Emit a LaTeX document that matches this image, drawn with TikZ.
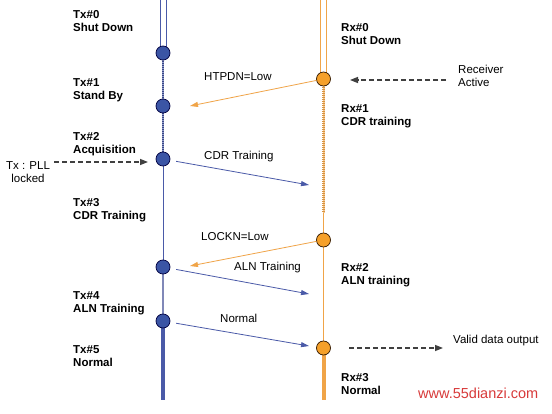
\documentclass[tikz,border=0pt]{standalone}
\usepackage{fontspec}
\setmainfont{Liberation Sans}
\usetikzlibrary{arrows.meta}
\definecolor{txblue}{HTML}{3B55A5}
\definecolor{txline}{HTML}{4A5AA8}
\definecolor{txlight}{HTML}{8088B8}
\definecolor{rxorange}{HTML}{F5A02A}
\definecolor{rxline}{HTML}{F0A448}
\definecolor{dashgray}{HTML}{404040}
\definecolor{wmred}{HTML}{D83A3A}
\begin{document}
\begin{tikzpicture}[x=1pt,y=-1pt,
  font=\fontsize{11.5}{13}\selectfont,
  txdot/.style={circle,draw=black!75!blue,fill=txblue,line width=0.7pt,minimum size=14pt,inner sep=0pt},
  rxdot/.style={circle,draw=black!80!orange,fill=rxorange,line width=0.7pt,minimum size=14pt,inner sep=0pt},
  statelbl/.style={anchor=north west,align=left,inner sep=0pt,font=\fontsize{11.5}{13}\selectfont\bfseries},
  msglbl/.style={anchor=north west,inner sep=0pt},
  bluearrow/.style={draw=txline,line width=0.8pt,-{Triangle[length=8pt,width=5pt]},shorten <=6pt},
  orangearrow/.style={draw=rxline,line width=0.8pt,-{Triangle[length=8pt,width=5pt]}},
  dasharrow/.style={draw=dashgray,line width=1.4pt,dash pattern=on 5pt off 3pt,-{Triangle[length=8pt,width=6pt]}},
  dotbase/.style={line width=2pt},
  dotline/.style={line width=2.2pt,dash pattern=on 1pt off 1pt},
]
\useasboundingbox (0,0) rectangle (552,414);
\fill[white] (0,0) rectangle (552,414);

% coordinates
\coordinate (ttop) at (163,0);
\coordinate (tbot) at (163,400);
\coordinate (rtop) at (323.5,0);
\coordinate (rbot) at (323.5,400);
\coordinate (rdotend) at (323.5,213);

% Tx timeline
\draw[txline,line width=0.9pt] (160,0) -- (160,47);
\draw[txline,line width=0.9pt] (166,0) -- (166,47);
\draw[txline!60,dotbase] (163,53) -- (163,159);
\draw[txline!80!black,dotline] (163,53) -- (163,159);
\draw[txline,line width=1pt] (163,159) -- (163,267);
\draw[txlight,line width=1.4pt] (163,267) -- (163,321);
\draw[txline,line width=3.6pt] (163,321) -- (tbot);

% Rx timeline
\draw[rxline,line width=0.9pt] (320.8,0) -- (320.8,73);
\draw[rxline,line width=0.9pt] (326.2,0) -- (326.2,73);
\draw[rxline!60,dotbase] (323.5,79) -- (rdotend);
\draw[rxline!90!black,dotline] (323.5,79) -- (rdotend);
\draw[rxline,line width=1pt] (rdotend) -- (323.5,348);
\draw[rxline,line width=4pt] (323.5,348) -- (rbot);

% Tx nodes
\node[txdot] (t0) at (163,53) {};
\node[txdot] (t1) at (163,106) {};
\node[txdot] (t2) at (163,159) {};
\node[txdot] (t3) at (163,267) {};
\node[txdot] (t4) at (163,321) {};

% Rx nodes
\node[rxdot] (r0) at (323.5,79) {};
\node[rxdot] (r1) at (323.5,240) {};
\node[rxdot] (r2) at (323.5,348) {};

% state labels
\node[statelbl] (lt0) at (73,10) {Tx\#0\\Shut Down};
\node[statelbl] (lt1) at (73,78) {Tx\#1\\Stand By};
\node[statelbl] (lt2) at (73,132) {Tx\#2\\Acquisition};
\node[statelbl] (lt3) at (73,198) {Tx\#3\\CDR Training};
\node[statelbl] (lt4) at (73,291) {Tx\#4\\ALN Training};
\node[statelbl] (lt5) at (73,345) {Tx\#5\\Normal};

\node[statelbl] (lr0) at (341,23) {Rx\#0\\Shut Down};
\node[statelbl] (lr1) at (341,104) {Rx\#1\\CDR training};
\node[statelbl] (lr2) at (341,263) {Rx\#2\\ALN training};
\node[statelbl] (lr3) at (341,373) {Rx\#3\\Normal};

% message arrows
\coordinate (a1) at (190,106);
\coordinate (a2) at (309,185);
\coordinate (a3) at (190,266);
\coordinate (a4) at (309,294);
\coordinate (a5) at (309,346);
\draw[orangearrow] (r0) -- (a1);
\draw[bluearrow] (t2) -- (a2);
\draw[orangearrow] (r1) -- (a3);
\draw[bluearrow] (t3) -- (a4);
\draw[bluearrow] (t4) -- (a5);

\node[msglbl] (m1) at (204,72) {HTPDN=Low};
\node[msglbl] (m2) at (204,151) {CDR Training};
\node[msglbl] (m3) at (201,232) {LOCKN=Low};
\node[msglbl] (m4) at (234,262) {ALN Training};
\node[msglbl] (m5) at (220,314) {Normal};

% external events
\node[anchor=north,align=center,inner sep=0pt] (pll) at (28,161) {Tx : PLL\\locked};
\coordinate (pllstart) at (54,162);
\coordinate (pllend) at (148,162);
\draw[dasharrow] (pllstart) -- (pllend);

\node[anchor=north west,align=left,inner sep=0pt] (ract) at (458,65) {Receiver\\Active};
\coordinate (rastart) at (446,80);
\coordinate (raend) at (350,80);
\draw[dasharrow] (rastart) -- (raend);

\node[anchor=north west,inner sep=0pt] (vdo) at (453,335) {Valid data output};
\coordinate (vdstart) at (349,348);
\coordinate (vdend) at (443,348);
\draw[dasharrow] (vdstart) -- (vdend);

% watermark text
\node[anchor=west,inner sep=0pt,text=wmred,font=\fontsize{14.5}{16}\selectfont] (wm) at (418,393) {www.55dianzi.com};
\end{tikzpicture}
\end{document}
